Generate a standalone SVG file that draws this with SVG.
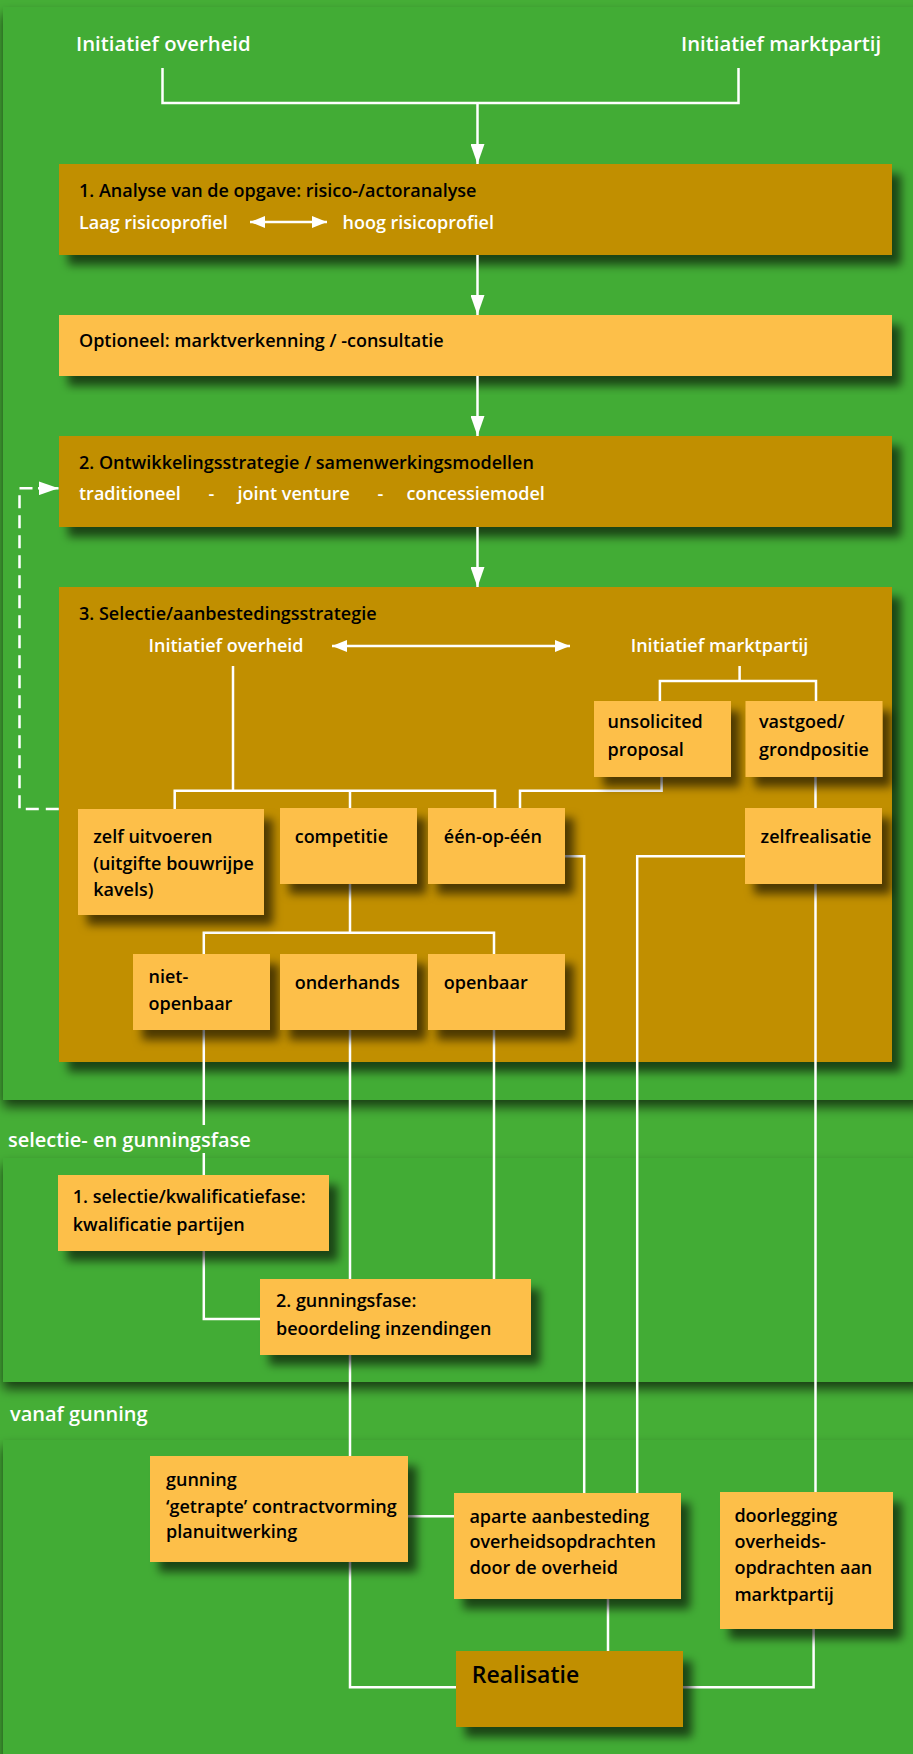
<svg xmlns="http://www.w3.org/2000/svg" width="913" height="1754" viewBox="0 0 913 1754">
<defs>
<filter id="pshadow" x="-5%" y="-5%" width="110%" height="120%">
<feDropShadow dx="0" dy="7" stdDeviation="6" flood-color="#000" flood-opacity="0.65"/>
</filter>
<filter id="bshadow" x="-10%" y="-10%" width="130%" height="140%">
<feDropShadow dx="9" dy="10" stdDeviation="5" flood-color="#000" flood-opacity="0.6"/>
</filter>
<marker id="arr" markerUnits="userSpaceOnUse" viewBox="0 0 20 14" refX="20" refY="7" markerWidth="20" markerHeight="14" orient="auto-start-reverse">
<path d="M0,0 L20,7 L0,14 z" fill="#fff"/>
</marker>
<marker id="arrs" markerUnits="userSpaceOnUse" viewBox="0 0 15 12" refX="15" refY="6" markerWidth="15" markerHeight="12" orient="auto-start-reverse">
<path d="M0,0 L15,6 L0,12 z" fill="#fff"/>
</marker>
</defs>
<style>
.bg{fill:#45ae36}
.panel{fill:#43ac34;filter:url(#pshadow)}
.gold{fill:#c18f00;filter:url(#bshadow)}
.or{fill:#fdbf4a;filter:url(#bshadow)}
text{font-family:"Open Sans","Noto Sans","Liberation Sans",sans-serif}
.t{fill:#000;font-size:18px;font-weight:600}
.w{fill:#fff;font-size:18px;font-weight:600}
.wl{fill:#fff;font-size:20.3px;font-weight:600}
.c{fill:none;stroke:#fff;stroke-width:2.5}
.d{stroke-dasharray:13 7}
</style>
<rect class="bg" x="0" y="0" width="913" height="1754"/>
<g id="panels">
<rect class="panel" x="3" y="7" width="920" height="1093"/>
<rect class="panel" x="3" y="1158" width="920" height="224"/>
<rect class="panel" x="3" y="1440" width="920" height="330"/>
</g>
<g id="phase-labels">
<text class="wl" x="76" y="51">Initiatief overheid</text>
<text class="wl" x="681" y="51">Initiatief marktpartij</text>
<text class="w" x="8" y="1147" style="font-size:20px">selectie- en gunningsfase</text>
<text class="w" x="10" y="1420.5" style="font-size:20px">vanaf gunning</text>
</g>
<g id="big-boxes">
<g id="analyse"><rect class="gold" x="59" y="164" width="833" height="91"/></g>
<g id="optioneel"><rect class="or" x="59" y="315" width="833" height="61"/></g>
<g id="ontwikkeling"><rect class="gold" x="59" y="436" width="833" height="91"/></g>
<g id="selectie-strategie"><rect class="gold" x="59" y="587" width="833" height="475"/></g>
</g>
<g id="connectors">
<path class="c" d="M162.5 68 V103 H738.5 V68"/>
<path class="c" d="M477.5 103 V164" marker-end="url(#arr)"/>
<path class="c" d="M477.5 255 V315" marker-end="url(#arr)"/>
<path class="c" d="M477.5 376 V436" marker-end="url(#arr)"/>
<path class="c" d="M477.5 527 V587" marker-end="url(#arr)"/>
<path class="c d" d="M58.8 809 H19.5 V488.3 H40"/>
<path class="c" d="M38 488.3 H58.5" marker-end="url(#arr)"/>
<path class="c" d="M250 222 H327" marker-start="url(#arrs)" marker-end="url(#arrs)"/>
<path class="c" d="M332 646 H570" marker-start="url(#arrs)" marker-end="url(#arrs)"/>
<path class="c" d="M233 666 V790.7"/>
<path class="c" d="M174.7 809 V790.7 H495 V808"/>
<path class="c" d="M350 790.7 V808"/>
<path class="c" d="M739.6 666 V681"/>
<path class="c" d="M659.9 701 V681 H816 V701"/>
<path class="c" d="M661.6 777 V790.7 H520 V808"/>
<path class="c" d="M815.5 777 V808"/>
<path class="c" d="M565 856.3 H584.2 V1493"/>
<path class="c" d="M745 856.3 H637.2 V1493"/>
<path class="c" d="M815.5 884 V1492"/>
<path class="c" d="M350 884 V932.7"/>
<path class="c" d="M203.8 954 V932.7 H494 V954"/>
<path class="c" d="M203.8 1030 V1125"/>
<path class="c" d="M203.8 1153 V1175"/>
<path class="c" d="M350 1030 V1279"/>
<path class="c" d="M494 1030 V1279"/>
<path class="c" d="M203.8 1251 V1319 H260.3"/>
<path class="c" d="M350 1355 V1456"/>
<path class="c" d="M408 1516.3 H454"/>
<path class="c" d="M608 1599 V1651"/>
<path class="c" d="M350 1562 V1687.3 H456"/>
<path class="c" d="M813.6 1629 V1687.3 H683"/>
</g>
<g id="analyse-text">
<text class="t" x="79" y="197">1. Analyse van de opgave: risico-/actoranalyse</text>
<text class="w" x="79" y="228.5">Laag risicoprofiel</text>
<text class="w" x="342.5" y="228.5">hoog risicoprofiel</text>
</g>
<g id="optioneel-text">
<text class="t" x="79" y="347">Optioneel: marktverkenning / -consultatie</text>
</g>
<g id="ontwikkeling-text">
<text class="t" x="79" y="468.5">2. Ontwikkelingsstrategie / samenwerkingsmodellen</text>
<text class="w" x="79" y="500">traditioneel</text>
<text class="w" x="208.5" y="500">-</text>
<text class="w" x="237.6" y="500">joint venture</text>
<text class="w" x="377.4" y="500">-</text>
<text class="w" x="406.5" y="500">concessiemodel</text>
</g>
<g id="selectie-strategie-text">
<text class="t" x="79" y="620">3. Selectie/aanbestedingsstrategie</text>
<text class="w" x="148.5" y="651.7">Initiatief overheid</text>
<text class="w" x="630.7" y="651.7">Initiatief marktpartij</text>
</g>
<g id="unsolicited"><rect class="or" x="594" y="701" width="137" height="76"/>
<text class="t" x="607.5" y="728.3">unsolicited</text><text class="t" x="607.5" y="756">proposal</text></g>
<g id="vastgoed"><rect class="or" x="745.5" y="701" width="137" height="76"/>
<text class="t" x="759" y="728.3">vastgoed/</text><text class="t" x="759" y="756">grondpositie</text></g>
<g id="zelf-uitvoeren"><rect class="or" x="78" y="809" width="186" height="106"/>
<text class="t" x="93.2" y="843.3">zelf uitvoeren</text><text class="t" x="93.2" y="869.5">(uitgifte bouwrijpe</text><text class="t" x="93.2" y="896">kavels)</text></g>
<g id="competitie"><rect class="or" x="280" y="808" width="137" height="76"/>
<text class="t" x="294.7" y="843">competitie</text></g>
<g id="een-op-een"><rect class="or" x="428" y="808" width="137" height="76"/>
<text class="t" x="443.8" y="843">één-op-één</text></g>
<g id="zelfrealisatie"><rect class="or" x="745" y="808" width="137" height="76"/>
<text class="t" x="760.6" y="843">zelfrealisatie</text></g>
<g id="niet-openbaar"><rect class="or" x="133" y="954" width="137" height="76"/>
<text class="t" x="148.5" y="982.7">niet-</text><text class="t" x="148.5" y="1010">openbaar</text></g>
<g id="onderhands"><rect class="or" x="280" y="954" width="137" height="76"/>
<text class="t" x="294.7" y="989">onderhands</text></g>
<g id="openbaar"><rect class="or" x="428" y="954" width="137" height="76"/>
<text class="t" x="443.8" y="989">openbaar</text></g>
<g id="selectiefase"><rect class="or" x="58" y="1175" width="271" height="76"/>
<text class="t" x="72.8" y="1203.3">1. selectie/kwalificatiefase:</text><text class="t" x="72.8" y="1230.7">kwalificatie partijen</text></g>
<g id="gunningsfase"><rect class="or" x="260" y="1279" width="271" height="76"/>
<text class="t" x="276" y="1307.3">2. gunningsfase:</text><text class="t" x="276" y="1335">beoordeling inzendingen</text></g>
<g id="gunning"><rect class="or" x="150" y="1456" width="258" height="106"/>
<text class="t" x="166" y="1485.7">gunning</text><text class="t" x="166" y="1512.7">‘getrapte’ contractvorming</text><text class="t" x="166" y="1538.3">planuitwerking</text></g>
<g id="aparte"><rect class="or" x="454" y="1493" width="227" height="106"/>
<text class="t" x="469.4" y="1522.7">aparte aanbesteding</text><text class="t" x="469.4" y="1548.3">overheidsopdrachten</text><text class="t" x="469.4" y="1574.3">door de overheid</text></g>
<g id="doorlegging"><rect class="or" x="720" y="1492" width="173" height="137"/>
<text class="t" x="734.4" y="1521.7">doorlegging</text><text class="t" x="734.4" y="1547.7">overheids-</text><text class="t" x="734.4" y="1574">opdrachten aan</text><text class="t" x="734.4" y="1601">marktpartij</text></g>
<g id="realisatie"><rect class="gold" x="456" y="1651" width="227" height="76"/>
<text class="t" x="471.8" y="1683.3" style="font-size:23px">Realisatie</text></g>
</svg>
